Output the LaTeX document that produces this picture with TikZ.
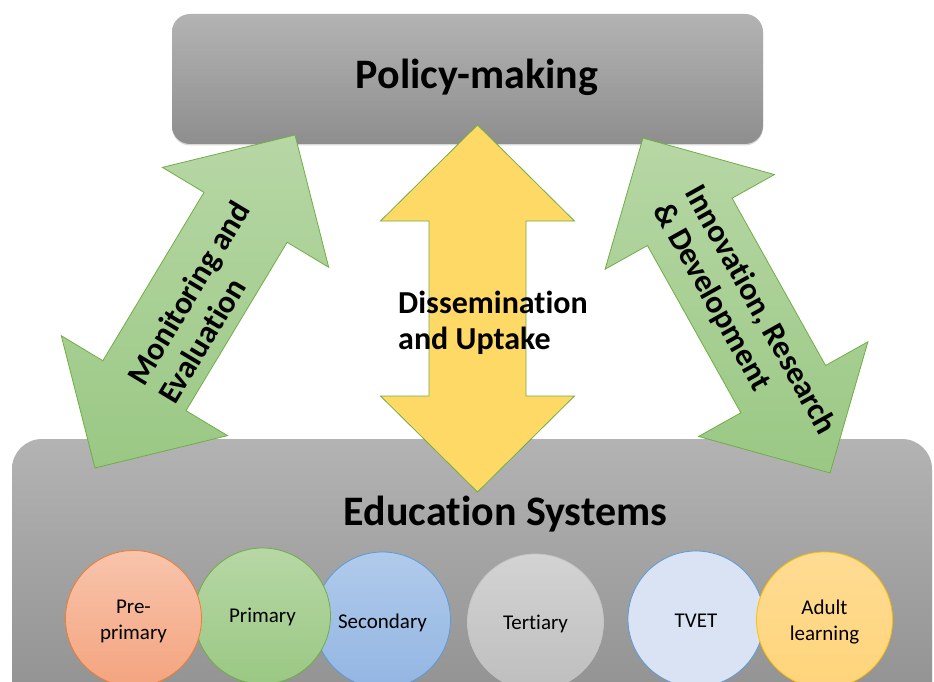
\documentclass[tikz,border=0pt]{standalone}
\usepackage{fontspec}
\setmainfont{Carlito}[Ligatures={TeX,NoCommon}]
\usetikzlibrary{shadows}
\definecolor{graytop}{HTML}{B3B3B3}
\definecolor{graybot}{HTML}{8E8E8E}
\definecolor{greentop}{HTML}{B7D7A5}
\definecolor{greenbot}{HTML}{9AC884}
\definecolor{greenline}{HTML}{70AD47}
\definecolor{yellowfill}{HTML}{FFD966}
\definecolor{orangetop}{HTML}{F8C4AC}
\definecolor{orangebot}{HTML}{F4A47F}
\definecolor{orangeline}{HTML}{ED7D31}
\definecolor{bluetop}{HTML}{B0CAEB}
\definecolor{bluebot}{HTML}{93B6E2}
\definecolor{blueline}{HTML}{5B9BD5}
\definecolor{greytop}{HTML}{D3D3D3}
\definecolor{greybot}{HTML}{BEBEBE}
\definecolor{greyline}{HTML}{C4C4C4}
\definecolor{paleblue}{HTML}{DAE3F3}
\definecolor{goldtop}{HTML}{FFDC94}
\definecolor{goldbot}{HTML}{FFD47A}
\definecolor{goldline}{HTML}{FFC000}
\tikzset{
  graybox/.style={top color=graytop, bottom color=graybot, draw=none,
    drop shadow={shadow xshift=0pt, shadow yshift=-1.5pt, opacity=0.3}},
  levelcircle/.style={circle, minimum size=136pt, inner sep=0pt, line width=0.8pt},
  leveltext/.style={align=center, font=\fontsize{21}{25.5}\selectfont},
  arrowshape/.style={draw=greenline, line width=0.8pt},
  labelfont/.style={font=\bfseries\fontsize{32}{36}\selectfont},
  titlefont/.style={font=\bfseries\fontsize{42}{50}\selectfont}
}
\begin{document}
\begin{tikzpicture}[x=1pt,y=1pt]
\useasboundingbox (0,0) rectangle (934,-682);
\clip (0,0) rectangle (934,-682);

% boxes
\node[graybox, rounded corners=18pt, minimum width=591pt, minimum height=130pt] (policy) at (467.5,-79) {};
\node[graybox, rounded corners=30pt, minimum width=920pt, minimum height=290pt] (edu) at (472,-584) {};

% left green double arrow
\begin{scope}[shift={(195,-301.5)}, rotate=59]
  \path[arrowshape, top color=greentop, bottom color=greenbot]
    (194.2,0) -- (98.2,97) -- (98.2,48.5) -- (-98.2,48.5) -- (-98.2,97) -- (-194.2,0)
    -- (-98.2,-97) -- (-98.2,-48.5) -- (98.2,-48.5) -- (98.2,-97) -- cycle;
\end{scope}
% middle yellow double arrow
\begin{scope}[shift={(477.5,-308.5)}, rotate=90]
  \path[arrowshape, fill=yellowfill]
    (183.5,0) -- (87.5,97) -- (87.5,48.5) -- (-87.5,48.5) -- (-87.5,97) -- (-183.5,0)
    -- (-87.5,-97) -- (-87.5,-48.5) -- (87.5,-48.5) -- (87.5,-97) -- cycle;
\end{scope}
% right green double arrow
\begin{scope}[shift={(736.5,-305.5)}, rotate=-60.8]
  \path[arrowshape, top color=greentop, bottom color=greenbot]
    (191.8,0) -- (95.8,97) -- (95.8,48.5) -- (-95.8,48.5) -- (-95.8,97) -- (-191.8,0)
    -- (-95.8,-97) -- (-95.8,-48.5) -- (95.8,-48.5) -- (95.8,-97) -- cycle;
\end{scope}

% titles
\node[titlefont, anchor=base] (policytext) at (477,-89) {Policy-making};
\node[titlefont, anchor=base] (edutext) at (505.5,-525) {Education Systems};

% arrow labels
\node[labelfont, rotate=59, align=left] (monitor) at (203.6,-302.2) {Monitoring and\\Evaluation};
\node[labelfont, align=left, anchor=north west, inner sep=0pt] (dissem) at (398,-291) {Dissemination\\and Uptake};
\node[labelfont, rotate=-60.8, align=left] (innov) at (744,-319) {Innovation, Research\\\& Development};

% level circles
\node[levelcircle, draw=blueline, top color=bluetop, bottom color=bluebot] (secondary) at (382.5,-620) {};
\node[levelcircle, draw=greenline, top color=greentop, bottom color=greenbot] (primary) at (262.5,-616) {};
\node[levelcircle, draw=orangeline, top color=orangetop, bottom color=orangebot] (preprimary) at (133.5,-618.5) {};
\node[levelcircle, draw=greyline, top color=greytop, bottom color=greybot] (tertiary) at (535.5,-622) {};
\node[levelcircle, draw=blueline, fill=paleblue] (tvet) at (696,-619) {};
\node[levelcircle, draw=goldline, top color=goldtop, bottom color=goldbot] (adult) at (824.5,-620) {};

\node[leveltext] (secondarytext) at ([yshift=-3pt]secondary.center) {Secondary};
\node[leveltext] (primarytext) at ([yshift=-1pt]primary.center) {Primary};
\node[leveltext] (preprimarytext) at ([yshift=-3pt]preprimary.center) {Pre-\\primary};
\node[leveltext] (tertiarytext) at ([yshift=-2pt]tertiary.center) {Tertiary};
\node[leveltext] (tvettext) at ([yshift=-2pt]tvet.center) {TVET};
\node[leveltext] (adulttext) at ([yshift=-2pt]adult.center) {Adult\\learning};
\end{tikzpicture}
\end{document}
